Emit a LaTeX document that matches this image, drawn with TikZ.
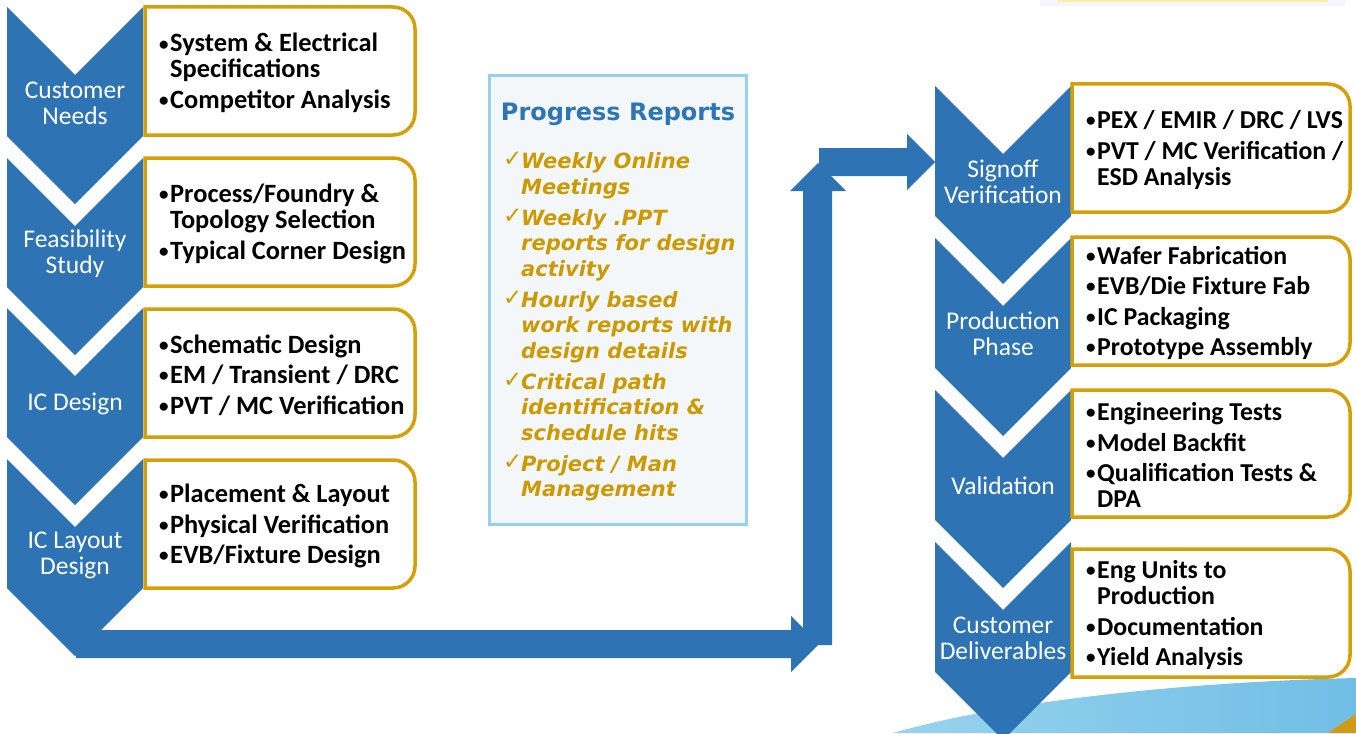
\documentclass[tikz,border=0pt]{standalone}
\usepackage{fontspec}
\setmainfont{Carlito}
\newfontfamily\verdfont{DejaVu Sans}
\definecolor{chevblue}{RGB}{46,116,181}
\definecolor{boxgold}{RGB}{212,160,10}
\definecolor{repgold}{RGB}{204,153,0}
\definecolor{repblue}{RGB}{46,117,182}
\definecolor{panelfill}{RGB}{243,247,250}
\definecolor{panelline}{RGB}{150,208,238}
\definecolor{skyleft}{RGB}{152,211,238}
\definecolor{skyright}{RGB}{112,190,230}
% bullet item and check item
\newcommand\itm[1]{\noindent\hangindent=11pt\hangafter=1\makebox[11pt][l]{\raisebox{1.8pt}{\fontsize{19}{19}\selectfont\textbullet}}#1\par}
\newcommand\chk[1]{\noindent\hangindent=18pt\hangafter=1\makebox[18pt][l]{\raisebox{2pt}{\mdseries\upshape\fontsize{23}{23}\selectfont ✓}}#1\par}
% box with sharp left and rounded right corners: x0,y0,x1,y1
\newcommand\phasebox[4]{%
  \draw[boxline] (#1,#2) -- ({#3-22},#2) arc[start angle=-90,end angle=0,radius=22]
    -- (#3,{#4-22}) arc[start angle=0,end angle=90,radius=22] -- (#1,#4) -- cycle;}
\begin{document}
\begin{tikzpicture}[x=1pt,y=-1pt,
  chevtext/.style={text=white,font=\fontsize{25.5}{26}\selectfont,align=center,inner sep=0pt},
  boxtext/.style={font=\fontsize{26.4}{26}\selectfont\bfseries,text width=280pt,inner sep=0pt,anchor=west,
    execute at begin node={\raggedright\spaceskip=0pt\xspaceskip=0pt\setlength{\parskip}{4.5pt}}},
  rboxtext/.style={boxtext,font=\fontsize{25.8}{26}\selectfont\bfseries},
  boxline/.style={draw=boxgold,line width=3.5pt,fill=white},
  reptext/.style={font=\verdfont\bfseries\itshape\fontsize{21}{25.5}\selectfont,
    text=repgold,text width=240pt,inner sep=0pt,anchor=north west,
    execute at begin node={\raggedright\spaceskip=0pt\xspaceskip=0pt\setlength{\parskip}{5.5pt}}}]
  \useasboundingbox (0,0) rectangle (1356,733);
  \clip (0,0) rectangle (1356,733);
  % decorations at the page edges
  \fill[blue!4] (1040,-10) rectangle (1345,6);
  \fill[yellow!70!orange!35] (1058,-10) rectangle (1328,2);
  \shade[left color=skyleft,right color=skyright] (893,733) .. controls (1000,702) and (1180,682) .. (1356,678) -- (1356,733) -- cycle;
  \fill[boxgold!80!brown] (1328,733) -- (1356,714) -- (1356,733) -- cycle;
  % left chevrons
  \foreach \t/\lbl/\nm in {7/{Customer\\Needs}/cneeds,158/{Feasibility\\Study}/feas,
      308/{IC Design}/icdes,459/{IC Layout\\Design}/iclay} {
    \fill[chevblue] (7,\t) -- (75,\t+68) -- (143,\t) -- (143,\t+129) -- (75,\t+197) -- (7,\t+129) -- cycle;
    \node[chevtext] (\nm) at (75,\t+96) {\lbl};
  }
  % right chevrons
  \foreach \t/\lbl/\nm in {86/{Signoff\\Verification}/signoff,238/{Production\\Phase}/prod,
      390/{Validation}/valid,542/{Customer\\Deliverables}/deliv} {
    \fill[chevblue] (935,\t) -- (1003,\t+68) -- (1071,\t) -- (1071,\t+130) -- (1003,\t+198) -- (935,\t+130) -- cycle;
    \node[chevtext] (\nm) at (1003,\t+96) {\lbl};
  }
  % flow arrows
  \fill[chevblue] (76,630) -- (791,630) -- (791,616) -- (819,644) -- (791,672) -- (791,658) -- (76,658) -- cycle;
  \fill[chevblue] (803,645) -- (803,191) -- (790,191) -- (818,163) -- (846,191) -- (832,191) -- (832,645) -- cycle;
  \fill[chevblue] (819,148) -- (907,148) -- (907,134) -- (935,162) -- (907,190) -- (907,176) -- (819,176) -- cycle;
  % left boxes
  \phasebox{145}{7}{415}{135}
  \phasebox{145}{158}{415}{286}
  \phasebox{145}{309}{415}{437}
  \phasebox{145}{460}{415}{588}
  \node[boxtext] (cneedsbox) at (159,73) {\itm{System \& Electrical\newline Specifications}\itm{Competitor Analysis}};
  \node[boxtext] (feasbox) at (159,224) {\itm{Process/Foundry \&\newline Topology Selection}\itm{Typical Corner Design}};
  \node[boxtext] (icdesbox) at (159,375) {\itm{Schematic Design}\itm{EM / Transient / DRC}\itm{PVT / MC Verification}};
  \node[boxtext] (iclaybox) at (159,526) {\itm{Placement \& Layout}\itm{Physical Verification}\itm{EVB/Fixture Design}};
  % right boxes
  \phasebox{1072}{84}{1350}{212}
  \phasebox{1072}{237}{1350}{365}
  \phasebox{1072}{390}{1350}{517}
  \phasebox{1072}{549}{1350}{677}
  \node[rboxtext] (signoffbox) at (1086,150) {\itm{PEX / EMIR / DRC / LVS}\itm{PVT / MC Verification /\newline ESD Analysis}};
  \node[rboxtext] (prodbox) at (1086,303) {\itm{Wafer Fabrication}\itm{EVB/Die Fixture Fab}\itm{IC Packaging}\itm{Prototype Assembly}};
  \node[rboxtext] (validbox) at (1086,455) {\itm{Engineering Tests}\itm{Model Backfit}\itm{Qualification Tests \&\newline DPA}};
  \node[rboxtext] (delivbox) at (1086,615) {\itm{Eng Units to\newline Production}\itm{Documentation}\itm{Yield Analysis}};
  % progress reports panel
  \draw[draw=panelline,line width=3pt,fill=panelfill] (489,76) rectangle (746,524);
  \node[font=\verdfont\bfseries\fontsize{24}{28}\selectfont,text=repblue] (reptitle) at (618,114) {Progress Reports};
  \node[reptext] (replist) at (503,152) {\chk{Weekly Online\newline Meetings}\chk{Weekly .PPT\newline reports for design\newline activity}%
    \chk{Hourly based\newline work reports with\newline design details}\chk{Critical path\newline identification \&\newline schedule hits}%
    \chk{Project / Man\newline Management}};
\end{tikzpicture}
\end{document}
